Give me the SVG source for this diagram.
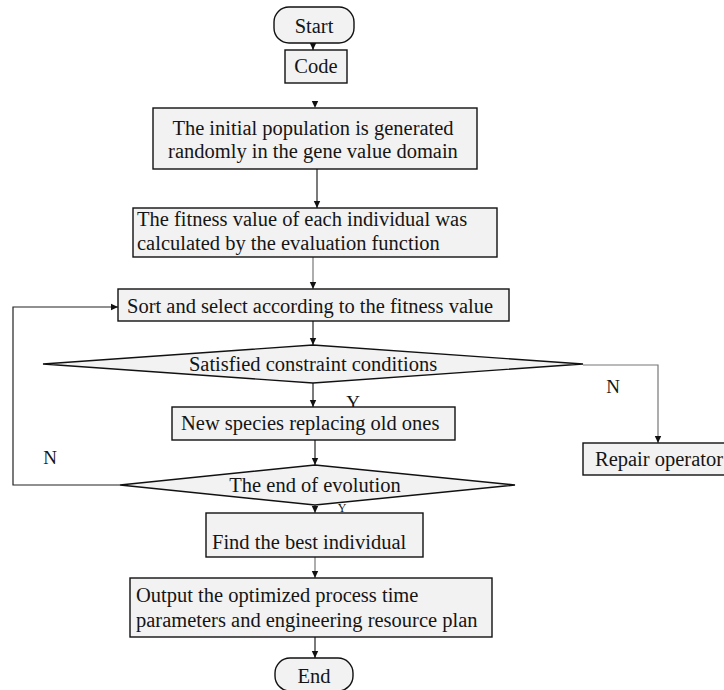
<svg xmlns="http://www.w3.org/2000/svg" width="724" height="690" viewBox="0 0 724 690">
<defs>
<style>
.box{fill:#f2f2f2;stroke:#111;stroke-width:1.4}
.t{font-family:"Liberation Serif","Times New Roman",serif;font-size:20.5px;fill:#151515}
.c{text-anchor:middle}
.ln{fill:none;stroke:#222;stroke-width:1.2}
.lg{fill:none;stroke:#777;stroke-width:1.2}
</style>
<marker id="ah" markerWidth="8" markerHeight="8" refX="7" refY="4" orient="auto" markerUnits="userSpaceOnUse">
<path d="M0,0.8 L7,4 L0,7.2 Z" fill="#111"/>
</marker>
</defs>
<rect width="724" height="690" fill="#fff"/>
<g id="connectors">
<line class="ln" x1="313" y1="43" x2="313" y2="50" marker-end="url(#ah)"/>
<line x1="315" y1="96" x2="315" y2="108" stroke="#fff" stroke-width="1" marker-end="url(#ah)"/>
<line class="ln" x1="317" y1="169" x2="317" y2="208" marker-end="url(#ah)"/>
<line class="lg" x1="313" y1="257" x2="313" y2="289" marker-end="url(#ah)"/>
<line class="ln" x1="313" y1="321" x2="313" y2="345" marker-end="url(#ah)"/>
<line class="ln" x1="313" y1="383" x2="313" y2="407" marker-end="url(#ah)"/>
<line class="ln" x1="315" y1="440" x2="315" y2="465" marker-end="url(#ah)"/>
<line class="lg" x1="315" y1="505" x2="315" y2="513" marker-end="url(#ah)"/>
<line class="lg" x1="315" y1="557" x2="315" y2="578" marker-end="url(#ah)"/>
<line class="ln" x1="315" y1="637" x2="315" y2="658" marker-end="url(#ah)"/>
<polyline class="lg" points="583,365 658,365 658,443" marker-end="url(#ah)"/>
<polyline class="ln" points="120,485 13,485 13,307 118,307" marker-end="url(#ah)"/>
<text class="t c" x="613" y="393" style="font-size:19px">N</text>
<text class="t c" x="50" y="464" style="font-size:19px">N</text>
<text class="t c" x="353" y="409" style="font-size:19px">Y</text>
<text class="t c" x="342" y="512" style="font-size:12px">Y</text>
</g>
<g id="start">
<rect class="box" x="274" y="7" width="80" height="36" rx="15"/>
<text class="t c" x="314" y="33">Start</text>
</g>
<g id="code">
<rect class="box" x="285" y="50" width="62" height="33"/>
<text class="t c" x="316" y="73">Code</text>
</g>
<g id="init">
<rect class="box" x="153" y="108" width="324" height="61"/>
<text class="t c" x="313" y="135">The initial population is generated</text>
<text class="t c" x="313" y="158">randomly in the gene value domain</text>
</g>
<g id="fitness">
<rect class="box" x="133" y="208" width="364" height="49"/>
<text class="t" x="137" y="226">The fitness value of each individual was</text>
<text class="t" x="137" y="250">calculated by the evaluation function</text>
</g>
<g id="sort">
<rect class="box" x="118" y="289" width="391" height="32"/>
<text class="t" x="127" y="313">Sort and select according to the fitness value</text>
</g>
<g id="constraint">
<polygon class="box" points="43,364 313,345 583,364 313,383"/>
<text class="t c" x="313" y="371">Satisfied constraint conditions</text>
</g>
<g id="replace">
<rect class="box" x="172" y="407" width="283" height="33"/>
<text class="t" x="181" y="430">New species replacing old ones</text>
</g>
<g id="repair">
<rect class="box" x="583" y="443" width="150" height="32"/>
<text class="t" x="595" y="466">Repair operator</text>
</g>
<g id="end-evolution">
<polygon class="box" points="120,485 315,465 515,485 315,505"/>
<text class="t c" x="315" y="492">The end of evolution</text>
</g>
<g id="best">
<rect class="box" x="206" y="513" width="217" height="44"/>
<text class="t" x="212" y="549">Find the best individual</text>
</g>
<g id="output">
<rect class="box" x="130" y="578" width="362" height="59"/>
<text class="t" x="136" y="602">Output the optimized process time</text>
<text class="t" x="136" y="627">parameters and engineering resource plan</text>
</g>
<g id="end">
<rect class="box" x="275" y="658" width="78" height="33" rx="15"/>
<text class="t c" x="314" y="683">End</text>
</g>
</svg>
